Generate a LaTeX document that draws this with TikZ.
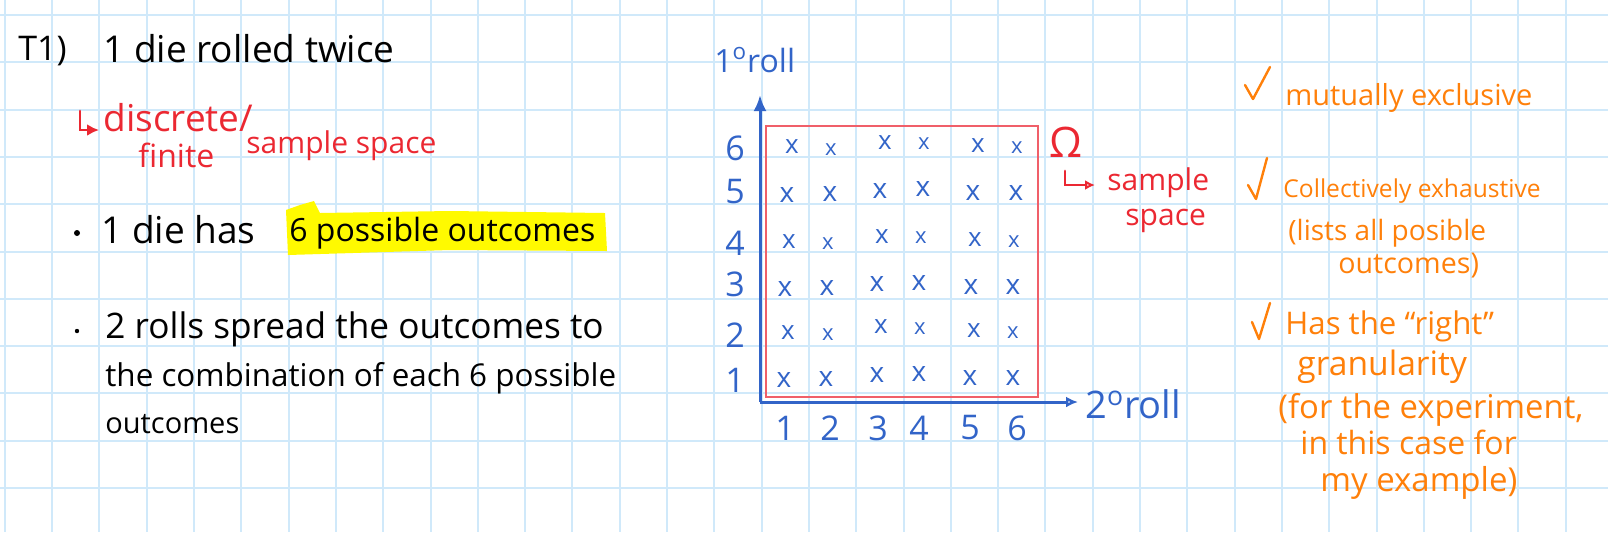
\documentclass[tikz,border=0pt]{standalone}
\usepackage{fontspec}
\setmainfont{Open Sans}
\usetikzlibrary{arrows.meta}
\definecolor{gridblue}{RGB}{208,233,250}
\definecolor{inkred}{RGB}{235,40,50}
\definecolor{boxred}{RGB}{240,95,105}
\definecolor{inkblue}{RGB}{50,100,200}
\definecolor{inkorange}{RGB}{255,128,10}
\definecolor{hlyellow}{RGB}{255,250,0}

\begin{document}
\begin{tikzpicture}[
  x=0.5pt, y=-0.5pt,
  hand/.style={font=\fontsize{#1}{#1}\selectfont, inner sep=0pt, anchor=base west},
  hand/.default=16,
  gridline/.style={draw=gridblue, line width=1pt},
  axis/.style={draw=inkblue, line width=1.5pt},
  digit/.style={font=\fontsize{17}{17}\selectfont, text=inkblue, inner sep=0pt},
  cross/.style={font=\fontsize{#1}{#1}\selectfont, text=inkblue, inner sep=0pt},
  tick/.style={draw=inkorange, line width=1.2pt, line cap=round, line join=round},
  hook/.style={draw=inkred, line width=1.4pt, line cap=round}
]
\useasboundingbox (0,0) rectangle (1608,532);

% squared paper
\foreach \k in {0,...,33}
  \draw[gridline] ({4.8+47.3*\k},0) -- ({4.8+47.3*\k},532);
\foreach \k in {0,...,11}
  \draw[gridline] (0,{15+47.3*\k}) -- (1608,{15+47.3*\k});

% left column
\node[hand=17] (title) at (18,60) {T1)};
\node[hand=18.5] (die) at (103,62) {1 die rolled twice};

\coordinate (hk1a) at (80,111);
\coordinate (hk1b) at (80,130);
\coordinate (hk1c) at (99,130);
\draw[hook, -{Latex[length=6pt,width=6pt]}] (hk1a) -- (hk1b) -- (hk1c);
\node[hand=18.5, text=inkred] (disc) at (103,131) {discrete/};
\node[hand=16, text=inkred] (fin) at (138,167) {finite};
\node[hand=15, text=inkred] (ss) at (246,153) {sample space};

\fill[hlyellow] (286,210) -- (300,205) -- (314,201) -- (320,213) -- (450,211)
  -- (605,213) -- (607,251) -- (450,250) -- (288,255) -- cycle;
\fill (77,233) circle (3);
\node[hand=18.5] (has) at (101,243) {1 die has};
\node[hand] (six) at (289,241) {6 possible outcomes};

\fill (77,331) circle (2.2);
\node[hand=17.6] (l1) at (105,338) {2 rolls spread the outcomes to};
\node[hand=15.7] (l2) at (105,386) {the combination of each 6 possible};
\node[hand=14.5] (l3) at (105,433) {outcomes};

% dice grid
\coordinate (O) at (760,402);
\coordinate (ytip) at (760,95);
\coordinate (xtip) at (1078,402);
\draw[axis, -{Latex[length=8pt,width=6.5pt]}] (O) -- (ytip);
\draw[axis, -{Latex[open,length=6pt,width=5.5pt]}] (O) -- (xtip);
\node[hand, text=inkblue] (ylab) at (714,72) {1\textsuperscript{o}roll};
\node[hand=19, text=inkblue] (xlab) at (1085,418) {2\textsuperscript{o}roll};

\foreach \n/\yy in {6/148,5/192,4/243,3/284,2/335,1/380}
  \node[digit] (r\n) at (735,\yy) {\n};
\foreach \n/\xx in {1/785,2/830,3/878,4/919,5/970,6/1017}
  \node[digit] (c\n) at (\xx,428) {\n};

\draw[boxred, line width=0.8pt] (766,126) rectangle (1038,397);

\foreach \xx/\yy/\s [count=\i] in {
  792/147/13,831/150/11,885/143/13,924/144/11,978/146/13,1017/148/11,
  787/195/14,830/194/14,880/191/14,923/189/14,973/193/14,1016/193/14,
  789/242/13,828/244/11,882/237/13,921/238/11,975/240/13,1014/242/11,
  785/289/14,827/288/14,877/284/14,919/283/14,971/287/14,1013/287/14,
  788/333/13,828/335/11,881/327/13,920/329/11,974/331/13,1013/333/11,
  784/380/14,826/379/14,877/375/14,919/374/14,970/378/14,1013/378/14}
  \node[cross=\s] (x\i) at (\xx,\yy) {x};

\node[font=\fontsize{21}{21}\selectfont, text=inkred, inner sep=0pt] (omega) at (1066,142) {Ω};
\coordinate (hk2a) at (1065,171);
\coordinate (hk2b) at (1065,185);
\coordinate (hk2c) at (1095,185);
\draw[hook, -{Latex[open,length=5pt,width=5pt]}] (hk2a) -- (hk2b) -- (hk2c);
\node[hand=15, text=inkred] (sam) at (1107,190) {sample};
\node[hand=15, text=inkred] (spa) at (1125,225) {space};

% right column
\draw[tick] (1245,85) -- (1253,99) -- (1270,67);
\node[hand=14.5, text=inkorange] (mut) at (1285,105) {mutually exclusive};

\draw[tick] (1248,185) -- (1256,199) -- (1267,158);
\node[hand=12.3, text=inkorange] (coll) at (1283,197) {Collectively exhaustive};
\node[hand=14, text=inkorange] (lists) at (1288,240) {(lists all posible};
\node[hand=14.3, text=inkorange] (outc) at (1338,273) {outcomes)};

\draw[tick] (1252,322) -- (1259,339) -- (1270,303);
\node[hand=15.6, text=inkorange] (right) at (1285,334) {Has the ``right''};
\node[hand=16.8, text=inkorange] (gran) at (1297,375) {granularity};
\node[hand=16.4, text=inkorange] (forx) at (1278,418) {(for the experiment,};
\node[hand=16, text=inkorange] (inth) at (1300,454) {in this case for};
\node[hand=16.5, text=inkorange] (myex) at (1320,491) {my example)};

\end{tikzpicture}
\end{document}
